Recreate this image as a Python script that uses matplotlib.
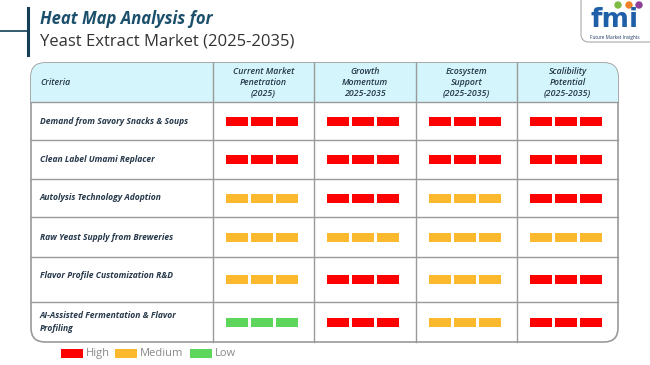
import matplotlib.pyplot as plt
from matplotlib.patches import Rectangle, FancyBboxPatch, Circle

# data
criteria = ['Demand from Savory Snacks & Soups',
            'Clean Label Umami Replacer',
            'Autolysis Technology Adoption',
            'Raw Yeast Supply from Breweries',
            'Flavor Profile Customization R&D',
            'AI-Assisted Fermentation & Flavor\nProfiling']
columns = ['Current Market\nPenetration\n(2025)',
           'Growth\nMomentum\n2025-2035',
           'Ecosystem\nSupport\n(2025-2035)',
           'Scalibility\nPotential\n(2025-2035)']
levels = [['High', 'High', 'High', 'High'],
          ['High', 'High', 'High', 'High'],
          ['Medium', 'High', 'Medium', 'High'],
          ['Medium', 'Medium', 'Medium', 'Medium'],
          ['Medium', 'High', 'Medium', 'High'],
          ['Low', 'High', 'Medium', 'High']]
level_names = ['High', 'Medium', 'Low']
level_colors = {'High': '#FF0000', 'Medium': '#FDB92E', 'Low': '#5ED65C'}

plt.rcParams['font.family'] = ['Open Sans', 'DejaVu Sans']

fig = plt.figure(figsize=(6.5, 3.65), dpi=100)
ax = fig.add_axes([0, 0, 1, 1])
ax.set_xlim(0, 650)
ax.set_ylim(365, 0)
ax.axis('off')

# title block
ax.plot([28, 28], [8, 55], color='#123F55', lw=2.2)
ax.plot([0, 28], [31, 31], color='#123F55', lw=1.2)
ax.text(40, 19, 'Heat Map Analysis for', fontsize=12, fontweight='bold',
        fontstyle='italic', color='#1B4F6B', va='center')
ax.text(40, 42, 'Yeast Extract Market (2025-2035)', fontsize=12,
        color='#333333', va='center')

# logo
ax.add_patch(FancyBboxPatch((581, -10), 75, 52, boxstyle='round,pad=0,rounding_size=8',
                            fc='white', ec='#AAAAAA', lw=0.8))
ax.text(615, 20, 'fmi', fontsize=19, fontweight='bold', color='#1F5FA8',
        ha='center', va='center', family='DejaVu Sans')
for cx, c in zip([618, 629, 639], ['#7DBB42', '#F0812A', '#8E3F96']):
    ax.add_patch(Circle((cx, 5), 3.0, color=c))
ax.text(615, 37, 'Future Market Insights', fontsize=3.4, color='#1F3A5F', ha='center', va='center')

# table geometry
x_left, x_right = 31, 618
col_edges = [31, 213, 314, 416, 517, 618]
row_edges = [63, 102, 140, 179, 217, 257, 302, 342]

box = FancyBboxPatch((x_left, row_edges[0]), x_right - x_left, row_edges[-1] - row_edges[0],
                     boxstyle='round,pad=0,rounding_size=14', fc='white',
                     ec='#9A9A9A', lw=1.2, zorder=1)
ax.add_patch(box)
# header fill clipped to rounded box
hdr = Rectangle((x_left, row_edges[0]), x_right - x_left, row_edges[1] - row_edges[0],
                fc='#D4F5FB', ec='none', zorder=1.5)
ax.add_patch(hdr)
hdr.set_clip_path(box)

for y in row_edges[1:-1]:
    ax.plot([x_left, x_right], [y, y], color='#9A9A9A', lw=1.0, zorder=2)
for x in col_edges[1:-1]:
    ax.plot([x, x], [row_edges[0], row_edges[-1]], color='#9A9A9A', lw=1.0, zorder=2)

txt_color = '#26384A'
ax.text(40, (row_edges[0] + row_edges[1]) / 2, 'Criteria', fontsize=6.3, fontstyle='italic',
        fontweight='semibold', color=txt_color, va='center')
for j, col in enumerate(columns):
    cx = (col_edges[j + 1] + col_edges[j + 2]) / 2
    ax.text(cx, (row_edges[0] + row_edges[1]) / 2, col, fontsize=6.3, fontstyle='italic',
            fontweight='semibold', color=txt_color, ha='center', va='center', linespacing=1.35)

bar_w, bar_h, gap = 22, 9, 3
for i, name in enumerate(criteria):
    y0, y1 = row_edges[i + 1], row_edges[i + 2]
    cy = (y0 + y1) / 2
    ty = cy - 4 if i == 4 else cy
    ax.text(40, ty, name, fontsize=6.1, fontstyle='italic', fontweight='bold',
            color=txt_color, va='center', linespacing=1.7)
    for j, lv in enumerate(levels[i]):
        cx = (col_edges[j + 1] + col_edges[j + 2]) / 2 - 2
        start = cx - (3 * bar_w + 2 * gap) / 2
        for k in range(3):
            ax.add_patch(Rectangle((start + k * (bar_w + gap), cy - bar_h / 2), bar_w, bar_h,
                                   fc=level_colors[lv], ec='none', zorder=3))

# legend
lx = 61
for name in level_names:
    ax.add_patch(Rectangle((lx, 348.5), 22, 9.5, fc=level_colors[name], ec='none'))
    ax.text(lx + 25, 353.5, name, fontsize=8, color='#8A8A8A', va='center')
    lx += {'High': 54, 'Medium': 75, 'Low': 40}[name]

fig.savefig('out.png', dpi=100)
